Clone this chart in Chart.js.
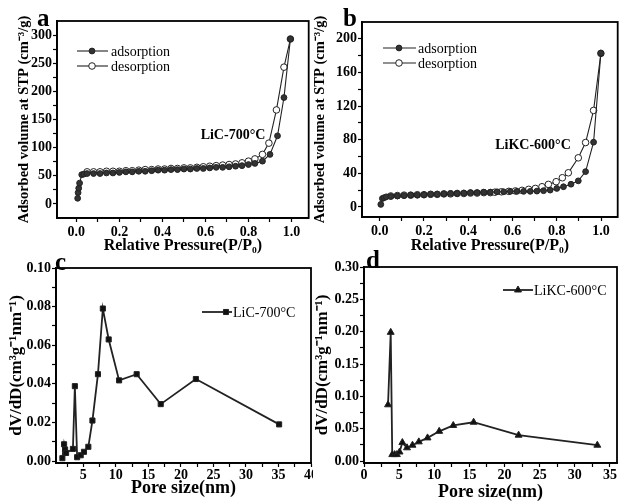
<!DOCTYPE html>
<html>
<head>
<meta charset="utf-8">
<script src="https://cdn.jsdelivr.net/npm/chart.js@4.4.0/dist/chart.umd.min.js"></script>
<style>
html,body{margin:0;padding:0;background:#fff;}
#wrap{position:relative;width:622px;height:503px;overflow:hidden;background:#fff;}
canvas{position:absolute;left:0;top:0;}
.box{position:absolute;overflow:hidden;}
</style>
</head>
<body>
<div id="wrap">
<div class="box" style="left:0;top:0;width:313px;height:256px"><canvas id="ca"></canvas></div>
<div class="box" style="left:311px;top:0;width:311px;height:256px"><canvas id="cb"></canvas></div>
<div class="box" style="left:0;top:250px;width:313px;height:253px"><canvas id="cc"></canvas></div>
<div class="box" style="left:311px;top:250px;width:311px;height:253px"><canvas id="cd"></canvas></div>
</div>
<script>
// ---------- DATA ----------
// Panel a : LiC-700°C isotherm
const aAdsX = [0.006,0.008,0.011,0.015,0.025,0.035,0.05,0.08,0.11,0.14,0.17,0.2,0.23,0.26,0.29,0.32,0.35,0.38,0.41,0.44,0.47,0.5,0.53,0.56,0.59,0.62,0.65,0.68,0.71,0.74,0.77,0.8,0.83,0.865,0.9,0.935,0.965,0.995];
const aAdsY = [10,20,28,37,52,53,54,54,54,55,55,56,57,57,58,58,59,60,60,61,61,62,62,63,63,64,65,65,66,67,68,70,72,76,88,121,189,293];
const aDesX = [0.05,0.08,0.11,0.14,0.17,0.2,0.23,0.26,0.29,0.32,0.35,0.38,0.41,0.44,0.47,0.5,0.53,0.56,0.59,0.62,0.65,0.68,0.71,0.74,0.77,0.8,0.83,0.865,0.895,0.93,0.965,0.995];
const aDesY = [57,57,57,58,58,58,59,59,60,61,61,62,62,63,63,64,64,65,66,67,68,69,70,71,73,76,80,88,108,167,243,293];
// Panel b : LiKC-600°C isotherm
const bAdsX = [0.005,0.012,0.02,0.03,0.05,0.08,0.11,0.14,0.17,0.2,0.23,0.26,0.29,0.32,0.35,0.38,0.41,0.44,0.47,0.5,0.53,0.56,0.59,0.62,0.65,0.68,0.71,0.74,0.77,0.8,0.83,0.864,0.897,0.93,0.966,0.999];
const bAdsY = [3,10,11,12,12.5,13,13.5,14,14,14.5,15,15,15.5,16,16,16.5,17,17,17.5,17.5,18,18,18.5,18.5,18.5,18.5,18.8,19.3,20,22,24,27,31,42,77,183];
const bDesX = [0.05,0.08,0.11,0.14,0.17,0.2,0.23,0.26,0.29,0.32,0.35,0.38,0.41,0.44,0.47,0.5,0.52,0.55,0.583,0.613,0.643,0.673,0.703,0.733,0.762,0.797,0.825,0.852,0.897,0.93,0.966,0.999];
const bDesY = [13,13.5,14,14,14.5,14.5,15,15,15.5,15.5,16,16,16.5,16.5,17,17,17.5,18,18.5,19,19.7,20.9,22,24,26.8,30,34.7,40.6,58.4,76.6,114.8,182.6];
// Panel c : LiC-700°C pore size distribution
const cX = [1.78,2.04,2.2,2.35,3.4,3.7,4.05,4.6,5.1,5.77,6.4,7.25,8.0,8.9,10.5,13.2,16.9,22.3,35.1];
const cY = [0.0015,0.0087,0.006,0.0042,0.0063,0.0388,0.002,0.003,0.0048,0.0074,0.021,0.045,0.079,0.063,0.0418,0.045,0.0295,0.0425,0.019];
// Panel d : LiKC-600°C pore size distribution
const dX = [3.42,3.8,4.02,4.36,4.68,5.06,5.46,6.12,6.9,7.8,9.04,10.7,12.7,15.6,22.0,33.2];
const dY = [0.087,0.199,0.010,0.010,0.010,0.014,0.0286,0.0205,0.0245,0.0297,0.0358,0.046,0.055,0.060,0.040,0.0245];

// Tick labels
const isoXMajor = [0,0.2,0.4,0.6,0.8,1.0];
const isoXMinor = [0.1,0.3,0.5,0.7,0.9];
const aYMajor = [0,50,100,150,200,250,300];
const aYMinor = [25,75,125,175,225,275];
const bYMajor = [0,40,80,120,160,200];
const bYMinor = [20,60,100,140,180];
const cXMajor = [5,10,15,20,25,30,35,40];
const cXMinor = [2.5,7.5,12.5,17.5,22.5,27.5,32.5,37.5];
const cYMajor = [0,0.02,0.04,0.06,0.08,0.10];
const cYMinor = [0.01,0.03,0.05,0.07,0.09];
const dXMajor = [0,5,10,15,20,25,30,35];
const dXMinor = [2.5,7.5,12.5,17.5,22.5,27.5,32.5];
const dYMajor = [0,0.05,0.10,0.15,0.20,0.25,0.30];
const dYMinor = [0.025,0.075,0.125,0.175,0.225,0.275];

// ---------- HELPERS ----------
const FONT = '"Liberation Serif","Times New Roman",serif';
Chart.defaults.font.family = FONT;
Chart.defaults.color = '#000';

function pts(xs, ys){ return xs.map((x,i)=>({x:x, y:ys[i]})); }

function drawMarker(ctx, style, r, x, y, fill, stroke, bw){
  ctx.save();
  ctx.fillStyle = fill; ctx.strokeStyle = stroke; ctx.lineWidth = bw;
  ctx.beginPath();
  if (style === 'circle') ctx.arc(x, y, r, 0, Math.PI*2);
  else if (style === 'rect') { const s = r*Math.SQRT1_2; ctx.rect(x-s, y-s, 2*s, 2*s); }
  else if (style === 'triangle') {
    let a = 0;
    ctx.moveTo(x + Math.sin(a)*r, y - Math.cos(a)*r); a += 2*Math.PI/3;
    ctx.lineTo(x + Math.sin(a)*r, y - Math.cos(a)*r); a += 2*Math.PI/3;
    ctx.lineTo(x + Math.sin(a)*r, y - Math.cos(a)*r);
    ctx.closePath();
  }
  ctx.fill(); if (bw > 0) ctx.stroke();
  ctx.restore();
}

const framePlugin = {
  id: 'frame',
  afterDraw(chart){
    const {ctx, chartArea:a} = chart;
    ctx.save(); ctx.strokeStyle = '#000'; ctx.lineWidth = 1.8;
    ctx.strokeRect(a.left, a.top, a.right-a.left, a.bottom-a.top);
    ctx.restore();
  }
};

const textPlugin = {
  id: 'texts',
  afterDraw(chart, args, opts){
    const ctx = chart.ctx;
    (opts.items || []).forEach(t => {
      ctx.save();
      ctx.font = t.font; ctx.fillStyle = '#000';
      ctx.textAlign = t.align || 'left';
      ctx.textBaseline = t.baseline || 'middle';
      ctx.fillText(t.text, t.x, t.y);
      ctx.restore();
    });
    (opts.legend || []).forEach(l => {
      const ds = chart.data.datasets[l.ds];
      ctx.save();
      ctx.strokeStyle = ds.borderColor; ctx.lineWidth = ds.borderWidth;
      ctx.beginPath(); ctx.moveTo(l.x1, l.y); ctx.lineTo(l.x2, l.y); ctx.stroke();
      ctx.restore();
      drawMarker(ctx, ds.pointStyle, ds.pointRadius, l.mx, l.y, ds.pointBackgroundColor, ds.pointBorderColor, ds.pointBorderWidth);
      ctx.save();
      ctx.font = '14px ' + FONT; ctx.fillStyle = '#000';
      ctx.textAlign = 'left'; ctx.textBaseline = 'middle';
      ctx.fillText(l.text, l.tx, l.y + 1);
      ctx.restore();
    });
  }
};

function axis(o){
  return {
    type: 'linear', position: o.pos, min: o.min, max: o.max,
    afterBuildTicks: s => { s.ticks = o.major.concat(o.minor).sort((p,q)=>p-q).map(v=>({value:v})); },
    afterFit: s => { if (o.pos === 'bottom') s.height = o.size; else s.width = o.size; },
    ticks: { autoSkip:false, maxRotation:0, minRotation:0, padding: o.tickPad == null ? 2 : o.tickPad,
             font:{size:14, weight:'bold'}, color:'#000',
             callback: v => o.major.includes(v) ? o.fmt(v) : '' },
    grid: { drawOnChartArea:false, drawTicks:true, tickLength:4, tickColor:'#000', tickWidth:1.2 },
    border: { display:true, color:'#000', width:1.8 },
    title: { display:true, text:o.title, font:{size:o.tsize, weight:'bold'}, color:'#000', padding:o.tpad }
  };
}

function ds(label, data, style, r, fill, lw){
  return { label:label, data:data, showLine:true, borderColor:'#222', borderWidth:lw,
           pointStyle:style, pointRadius:r, pointHoverRadius:r,
           pointBackgroundColor:fill, pointBorderColor:'#222', pointBorderWidth:1,
           tension:0, fill:false };
}

function make(id, W, H, area, datasets, xAx, yAx, texts){
  const cv = document.getElementById(id);
  cv.width = W; cv.height = H; cv.style.width = W + 'px'; cv.style.height = H + 'px';
  return new Chart(cv, {
    type: 'line',
    data: { datasets: datasets },
    options: {
      responsive:false, animation:false, devicePixelRatio:1,
      layout: { padding: { left:0, top:area.t, right:W-area.r, bottom:0 } },
      scales: { x: xAx, y: yAx },
      plugins: { legend:{display:false}, tooltip:{enabled:false}, texts: texts }
    },
    plugins: [framePlugin, textPlugin]
  });
}

const f1 = v => v.toFixed(1), f0 = v => String(v), f2 = v => v.toFixed(2);
const isoTitleX = 'Relative Pressure(P/P\u2080)';
const isoTitleY = 'Adsorbed volume at STP (cm\u207B\u00B3/g)';
const psdTitleX = 'Pore size(nm)';
const psdTitleY = 'dV/dD(cm\u00B3g\u207B\u00B9nm\u207B\u00B9)';

// ---------- PANEL a ----------
make('ca', 313, 256, {l:57, t:21, r:311, b:218},
  [ds('adsorption', pts(aAdsX, aAdsY), 'circle', 2.9, '#333', 1.1),
   ds('desorption', pts(aDesX, aDesY), 'circle', 3.3, '#fff', 1.1)],
  axis({pos:'bottom', min:-0.09, max:1.08, major:isoXMajor, minor:isoXMinor, fmt:f1, size:256-218,
        title:isoTitleX, tsize:16, tpad:{top:0,bottom:1}}),
  axis({pos:'left', min:-25, max:325, major:aYMajor, minor:aYMinor, fmt:f0, size:57,
        title:isoTitleY, tsize:14.5, tpad:{top:16,bottom:0}, tickPad:1}),
  { items:[{text:'a', x:37, y:26, font:'bold 25px '+FONT, baseline:'alphabetic'},
           {text:'LiC-700\u00B0C', x:233, y:135, font:'bold 14px '+FONT, align:'center'}],
    legend:[{ds:0, x1:77, x2:108, mx:92, y:51, tx:111, text:'adsorption'},
            {ds:1, x1:77, x2:108, mx:92, y:66, tx:111, text:'desorption'}] });

// ---------- PANEL b ----------
make('cb', 311, 256, {l:51, t:22, r:309, b:217},
  [ds('adsorption', pts(bAdsX, bAdsY), 'circle', 2.9, '#333', 1.1),
   ds('desorption', pts(bDesX, bDesY), 'circle', 3.3, '#fff', 1.1)],
  axis({pos:'bottom', min:-0.08, max:1.075, major:isoXMajor, minor:isoXMinor, fmt:f1, size:256-217,
        title:isoTitleX, tsize:16, tpad:{top:0,bottom:1}}),
  axis({pos:'left', min:-12, max:220, major:bYMajor, minor:bYMinor, fmt:f0, size:51,
        title:isoTitleY, tsize:14.5, tpad:{top:1,bottom:0}, tickPad:1}),
  { items:[{text:'b', x:32, y:26, font:'bold 25px '+FONT, baseline:'alphabetic'},
           {text:'LiKC-600\u00B0C', x:222, y:145, font:'bold 14px '+FONT, align:'center'}],
    legend:[{ds:0, x1:72, x2:105, mx:88, y:48, tx:107, text:'adsorption'},
            {ds:1, x1:72, x2:105, mx:88, y:63, tx:107, text:'desorption'}] });

// ---------- PANEL c ----------
make('cc', 322, 253, {l:56, t:18, r:311, b:213},
  [ds('LiC-700\u00B0C', pts(cX, cY), 'rect', 3.6, '#111', 1.8)],
  axis({pos:'bottom', min:0.8, max:40, major:cXMajor, minor:cXMinor, fmt:f0, size:253-213,
        title:psdTitleX, tsize:18, tpad:{top:0,bottom:4}, tickPad:0}),
  axis({pos:'left', min:-0.001, max:0.1, major:cYMajor, minor:cYMinor, fmt:f2, size:56,
        title:psdTitleY, tsize:17, tpad:{top:6,bottom:0}, tickPad:1}),
  { items:[{text:'c', x:55, y:20, font:'bold 25px '+FONT, baseline:'alphabetic'}],
    legend:[{ds:0, x1:202, x2:232, mx:226, y:62, tx:233, text:'LiC-700\u00B0C'}] });

// ---------- PANEL d ----------
make('cd', 311, 253, {l:53, t:17, r:309, b:213},
  [ds('LiKC-600\u00B0C', pts(dX, dY), 'triangle', 4, '#111', 1.8)],
  axis({pos:'bottom', min:0, max:36, major:dXMajor, minor:dXMinor, fmt:f0, size:253-213,
        title:psdTitleX, tsize:18, tpad:{top:0,bottom:0}, tickPad:0}),
  axis({pos:'left', min:-0.003, max:0.3, major:dYMajor, minor:dYMinor, fmt:f2, size:53,
        title:psdTitleY, tsize:17, tpad:{top:1,bottom:0}, tickPad:1}),
  { items:[{text:'d', x:55, y:18, font:'bold 25px '+FONT, baseline:'alphabetic'}],
    legend:[{ds:0, x1:192, x2:222, mx:207, y:40, tx:223, text:'LiKC-600\u00B0C'}] });
</script>
</body>
</html>
